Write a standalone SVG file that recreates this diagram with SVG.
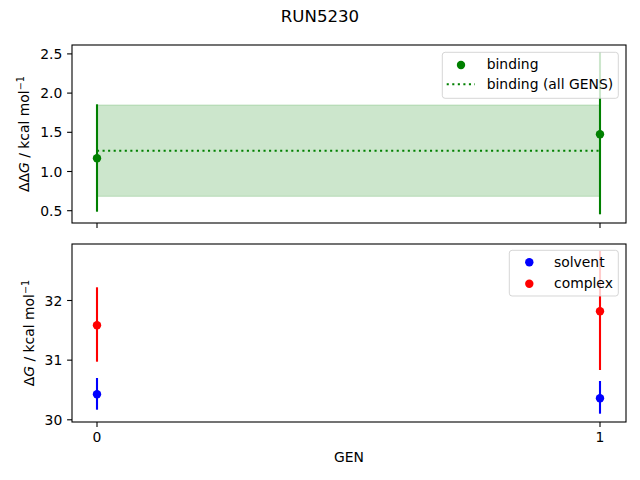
<svg xmlns="http://www.w3.org/2000/svg" width="640" height="480" viewBox="0 0 640 480">
<style>
text{font-family:"DejaVu Sans","Liberation Sans",sans-serif;font-size:13.9px;fill:#000}
.ytl{text-anchor:end}
.xtl{text-anchor:middle}
.spine{fill:none;stroke:#000;stroke-width:1.1}
.tick{stroke:#000;stroke-width:1.1}
.eg{stroke:#008000;stroke-width:2.1}
.er{stroke:#ff0000;stroke-width:2.1}
.eb{stroke:#0000ff;stroke-width:2.1}
.leg{fill:#fff;fill-opacity:0.8;stroke:#cccccc;stroke-opacity:0.8;stroke-width:1}
</style>
<rect width="640" height="480" fill="#fff"/>
<text id="title" x="320" y="22" text-anchor="middle" style="font-size:16.6px">RUN5230</text>

<g id="top-axes">
  <rect x="97" y="105" width="503" height="91.3" fill="#008000" fill-opacity="0.2" stroke="#008000" stroke-opacity="0.2" stroke-width="1"/>
  <g id="top-errorbars">
    <line class="eg" x1="97" y1="104.3" x2="97" y2="211.7"/>
    <line class="eg" x1="600" y1="52.5" x2="600" y2="214.3"/>
  </g>
  <line x1="97" y1="150.7" x2="600" y2="150.7" stroke="#008000" stroke-width="2.1" stroke-dasharray="2.1,3.45"/>
  <g id="top-points" fill="#008000">
    <circle cx="97" cy="158.3" r="4.2"/>
    <circle cx="600" cy="134.3" r="4.2"/>
  </g>
  <rect class="spine" x="72" y="45" width="554" height="178"/>
  <g id="top-yticks">
    <line class="tick" x1="67.1" y1="53.9" x2="72" y2="53.9"/>
    <line class="tick" x1="67.1" y1="93.1" x2="72" y2="93.1"/>
    <line class="tick" x1="67.1" y1="132.3" x2="72" y2="132.3"/>
    <line class="tick" x1="67.1" y1="171.5" x2="72" y2="171.5"/>
    <line class="tick" x1="67.1" y1="210.7" x2="72" y2="210.7"/>
    <text class="ytl" x="62.3" y="58.9">2.5</text>
    <text class="ytl" x="62.3" y="98.1">2.0</text>
    <text class="ytl" x="62.3" y="137.3">1.5</text>
    <text class="ytl" x="62.3" y="176.5">1.0</text>
    <text class="ytl" x="62.3" y="215.7">0.5</text>
  </g>
  <line class="tick" x1="97" y1="223" x2="97" y2="227.9"/>
  <line class="tick" x1="600" y1="223" x2="600" y2="227.9"/>
  <text transform="translate(29,134) rotate(-90)" text-anchor="middle">ΔΔ<tspan font-style="italic">G</tspan> / kcal mol<tspan dy="-5.5" style="font-size:9.7px">−1</tspan></text>
  <g id="top-legend">
    <rect class="leg" x="442.3" y="52.3" width="176" height="46" rx="2.8"/>
    <circle cx="461" cy="65" r="4.2" fill="#008000"/>
    <line x1="446.7" y1="84.3" x2="475" y2="84.3" stroke="#008000" stroke-width="2.1" stroke-dasharray="2.1,3.45"/>
    <text x="486.7" y="69.3">binding</text>
    <text x="486.7" y="88.5">binding (all GENS)</text>
  </g>
</g>

<g id="bottom-axes">
  <g id="bottom-errorbars">
    <line class="er" x1="97" y1="287.3" x2="97" y2="361.7"/>
    <line class="eb" x1="97" y1="378" x2="97" y2="409.7"/>
    <line class="er" x1="600" y1="251" x2="600" y2="370"/>
    <line class="eb" x1="600" y1="381" x2="600" y2="413.7"/>
  </g>
  <g id="bottom-points">
    <circle cx="97" cy="325.3" r="4.2" fill="#ff0000"/>
    <circle cx="97" cy="394.3" r="4.2" fill="#0000ff"/>
    <circle cx="600" cy="311.3" r="4.2" fill="#ff0000"/>
    <circle cx="600" cy="398.3" r="4.2" fill="#0000ff"/>
  </g>
  <rect class="spine" x="72" y="244" width="554" height="178"/>
  <g id="bottom-yticks">
    <line class="tick" x1="67.1" y1="300.5" x2="72" y2="300.5"/>
    <line class="tick" x1="67.1" y1="360.15" x2="72" y2="360.15"/>
    <line class="tick" x1="67.1" y1="419.8" x2="72" y2="419.8"/>
    <text class="ytl" x="62.3" y="305.5">32</text>
    <text class="ytl" x="62.3" y="365.2">31</text>
    <text class="ytl" x="62.3" y="424.8">30</text>
  </g>
  <g id="bottom-xticks">
    <line class="tick" x1="97" y1="422" x2="97" y2="426.9"/>
    <line class="tick" x1="600" y1="422" x2="600" y2="426.9"/>
    <text class="xtl" x="97" y="441.7">0</text>
    <text class="xtl" x="600" y="441.7">1</text>
  </g>
  <text x="349" y="461.7" text-anchor="middle">GEN</text>
  <text transform="translate(34.3,333) rotate(-90)" text-anchor="middle">Δ<tspan font-style="italic">G</tspan> / kcal mol<tspan dy="-5.5" style="font-size:9.7px">−1</tspan></text>
  <g id="bottom-legend">
    <rect class="leg" x="509.3" y="250.3" width="109" height="45.7" rx="2.8"/>
    <circle cx="529.3" cy="262.3" r="4.2" fill="#0000ff"/>
    <circle cx="529.3" cy="283.7" r="4.2" fill="#ff0000"/>
    <text x="554" y="267.3">solvent</text>
    <text x="554" y="288.4">complex</text>
  </g>
</g>
</svg>
